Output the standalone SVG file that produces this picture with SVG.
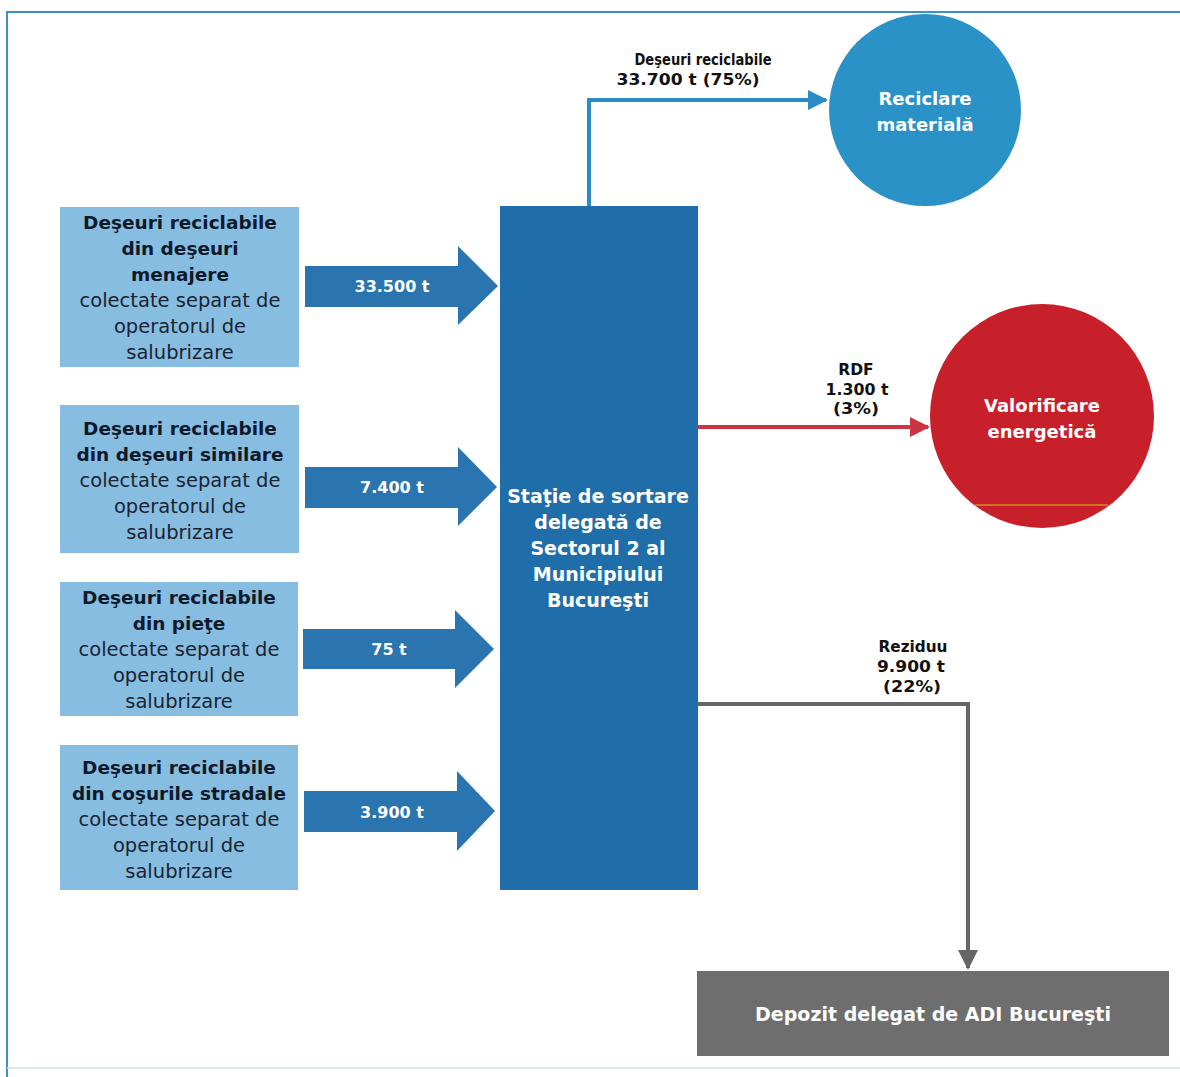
<svg xmlns="http://www.w3.org/2000/svg" width="1180" height="1077" viewBox="0 0 1180 1077">
  <defs>
    <style>
      .frame { stroke: #3d8fc9; stroke-width: 2; fill: none; }
      .src { fill: #88bde2; }
      .src-b { font-family: "DejaVu Sans", Verdana, sans-serif; font-weight: bold; font-size: 18.5px; fill: #0e1a2a; text-anchor: middle; }
      .src-r { font-family: "DejaVu Sans", Verdana, sans-serif; font-size: 19.5px; fill: #1a2430; text-anchor: middle; }
      .flow { fill: #2a75b0; }
      .flow-t { font-family: "DejaVu Sans", Verdana, sans-serif; font-weight: bold; font-size: 16px; fill: #ffffff; text-anchor: middle; }
      .hub { fill: #1f6ea9; }
      .hub-t { font-family: "DejaVu Sans", Verdana, sans-serif; font-weight: bold; font-size: 19px; fill: #ffffff; text-anchor: middle; }
      .lbl { font-family: "DejaVu Sans", Verdana, sans-serif; font-weight: bold; font-size: 15.5px; fill: #111111; text-anchor: middle; }
      .out-t { font-family: "DejaVu Sans", Verdana, sans-serif; font-weight: bold; font-size: 18px; fill: #ffffff; text-anchor: middle; }
      .dep-t { font-family: "DejaVu Sans", Verdana, sans-serif; font-weight: bold; font-size: 19px; fill: #ffffff; text-anchor: middle; }
      .line-blue { stroke: #2a8cc6; stroke-width: 4; fill: none; }
      .line-red { stroke: #cc3344; stroke-width: 4; fill: none; }
      .line-gray { stroke: #666666; stroke-width: 4; fill: none; }
    </style>
    <marker id="arr-blue" viewBox="0 0 10 10" refX="9" refY="5" markerWidth="5" markerHeight="5" orient="auto" markerUnits="strokeWidth">
      <path d="M0,0 L10,5 L0,10 z" fill="#2a8cc6"/>
    </marker>
    <marker id="arr-red" viewBox="0 0 10 10" refX="9" refY="5" markerWidth="5" markerHeight="5" orient="auto" markerUnits="strokeWidth">
      <path d="M0,0 L10,5 L0,10 z" fill="#cc3344"/>
    </marker>
    <marker id="arr-gray" viewBox="0 0 10 10" refX="9" refY="5" markerWidth="5" markerHeight="5" orient="auto" markerUnits="strokeWidth">
      <path d="M0,0 L10,5 L0,10 z" fill="#666666"/>
    </marker>
  </defs>

  <rect width="1180" height="1077" fill="#ffffff"/>

  <!-- page frame -->
  <path class="frame" d="M7,1077 L7,12 L1180,12"/>
  <line x1="7" y1="1068" x2="1180" y2="1068" stroke="#cfe0ee" stroke-width="1.5"/>

  <!-- source boxes -->
  <g id="src-menajere">
    <rect class="src" x="60" y="207" width="239" height="160"/>
    <text class="src-b" x="180" y="229">Deşeuri reciclabile</text>
    <text class="src-b" x="180" y="255">din deşeuri</text>
    <text class="src-b" x="180" y="281">menajere</text>
    <text class="src-r" x="180" y="307">colectate separat de</text>
    <text class="src-r" x="180" y="333">operatorul de</text>
    <text class="src-r" x="180" y="359">salubrizare</text>
  </g>
  <g id="src-similare">
    <rect class="src" x="60" y="405" width="239" height="148"/>
    <text class="src-b" x="180" y="435">Deşeuri reciclabile</text>
    <text class="src-b" x="180" y="461">din deşeuri similare</text>
    <text class="src-r" x="180" y="487">colectate separat de</text>
    <text class="src-r" x="180" y="513">operatorul de</text>
    <text class="src-r" x="180" y="539">salubrizare</text>
  </g>
  <g id="src-piete">
    <rect class="src" x="60" y="582" width="238" height="134"/>
    <text class="src-b" x="179" y="604">Deşeuri reciclabile</text>
    <text class="src-b" x="179" y="630">din pieţe</text>
    <text class="src-r" x="179" y="656">colectate separat de</text>
    <text class="src-r" x="179" y="682">operatorul de</text>
    <text class="src-r" x="179" y="708">salubrizare</text>
  </g>
  <g id="src-cosuri">
    <rect class="src" x="60" y="745" width="238" height="145"/>
    <text class="src-b" x="179" y="774">Deşeuri reciclabile</text>
    <text class="src-b" x="179" y="800">din coşurile stradale</text>
    <text class="src-r" x="179" y="826">colectate separat de</text>
    <text class="src-r" x="179" y="852">operatorul de</text>
    <text class="src-r" x="179" y="878">salubrizare</text>
  </g>

  <!-- block arrows into the sorting station -->
  <g id="flow-menajere">
    <path class="flow" d="M305,266 L458,266 L458,246 L498,286 L458,325 L458,307 L305,307 z"/>
    <text class="flow-t" x="392" y="292">33.500 t</text>
  </g>
  <g id="flow-similare">
    <path class="flow" d="M305,467 L458,467 L458,447 L497,487 L458,526 L458,508 L305,508 z"/>
    <text class="flow-t" x="392" y="493">7.400 t</text>
  </g>
  <g id="flow-piete">
    <path class="flow" d="M303,629 L455,629 L455,610 L494,649 L455,688 L455,669 L303,669 z"/>
    <text class="flow-t" x="389" y="655">75 t</text>
  </g>
  <g id="flow-cosuri">
    <path class="flow" d="M304,791 L457,791 L457,771 L495,811 L457,851 L457,832 L304,832 z"/>
    <text class="flow-t" x="392" y="818">3.900 t</text>
  </g>

  <!-- sorting station -->
  <g id="statie-sortare">
    <rect class="hub" x="500" y="206" width="198" height="684"/>
    <text class="hub-t" x="598" y="503">Staţie de sortare</text>
    <text class="hub-t" x="598" y="529">delegată de</text>
    <text class="hub-t" x="598" y="555">Sectorul 2 al</text>
    <text class="hub-t" x="598" y="581">Municipiului</text>
    <text class="hub-t" x="598" y="607">Bucureşti</text>
  </g>

  <!-- outputs -->
  <g id="reciclare">
    <circle cx="925" cy="110" r="96" fill="#2b92c8"/>
    <text class="out-t" x="925" y="105">Reciclare</text>
    <text class="out-t" x="925" y="131">materială</text>
  </g>
  <g id="valorificare">
    <circle cx="1042" cy="416" r="112" fill="#c8202b"/>
    <line x1="975" y1="505" x2="1108" y2="505" stroke="#d98a20" stroke-width="1.5"/>
    <text class="out-t" x="1042" y="412">Valorificare</text>
    <text class="out-t" x="1042" y="438">energetică</text>
  </g>
  <g id="depozit">
    <rect x="697" y="971" width="472" height="85" fill="#6e6e6e"/>
    <text class="dep-t" x="933" y="1021">Depozit delegat de ADI Bucureşti</text>
  </g>

  <!-- connectors -->
  <g id="connectors">
    <path class="line-blue" d="M589,206 L589,100 L826,100" marker-end="url(#arr-blue)"/>
    <path class="line-red" d="M698,427 L928,427" marker-end="url(#arr-red)"/>
    <path class="line-gray" d="M698,704 L968,704 L968,968" marker-end="url(#arr-gray)"/>
  </g>

  <!-- flow labels -->
  <g id="labels">
    <text class="lbl" x="703" y="65" textLength="137" lengthAdjust="spacingAndGlyphs">Deşeuri reciclabile</text>
    <text class="lbl" x="688" y="85" textLength="143" lengthAdjust="spacingAndGlyphs">33.700 t (75%)</text>
    <text class="lbl" x="856" y="375">RDF</text>
    <text class="lbl" x="857" y="395" textLength="63" lengthAdjust="spacingAndGlyphs">1.300 t</text>
    <text class="lbl" x="856" y="414" textLength="46" lengthAdjust="spacingAndGlyphs">(3%)</text>
    <text class="lbl" x="913" y="652" textLength="69" lengthAdjust="spacingAndGlyphs">Reziduu</text>
    <text class="lbl" x="911" y="672" textLength="68" lengthAdjust="spacingAndGlyphs">9.900 t</text>
    <text class="lbl" x="912" y="692" textLength="58" lengthAdjust="spacingAndGlyphs">(22%)</text>
  </g>
</svg>
